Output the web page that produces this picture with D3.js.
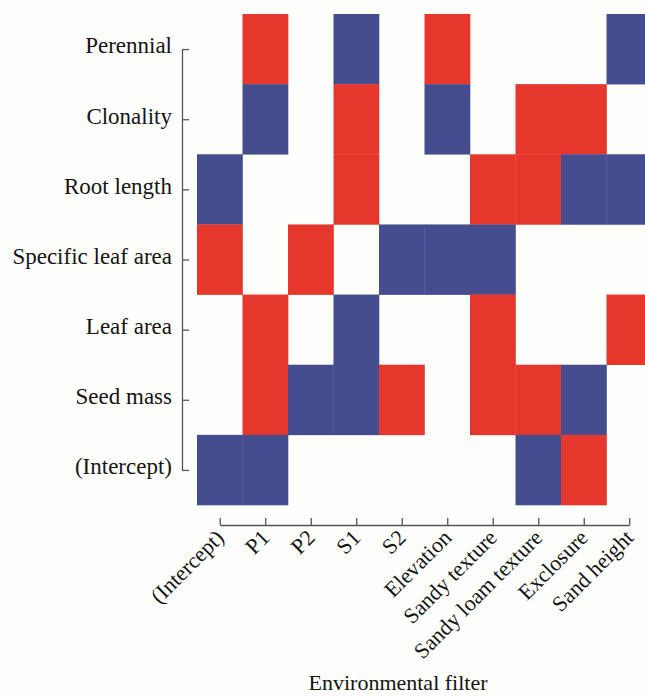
<!DOCTYPE html>
<html>
<head>
<meta charset="utf-8">
<script src="https://cdn.jsdelivr.net/npm/d3@7"></script>
<style>
  html, body { margin: 0; padding: 0; background: #fefefc; }
  svg { display: block; }
</style>
</head>
<body>
<div class="chart"></div>
<script>
// traits (rows, top to bottom) and environmental filters (columns)
const traits = ['Perennial', 'Clonality', 'Root length', 'Specific leaf area', 'Leaf area', 'Seed mass', '(Intercept)']
const filters = ['(Intercept)', 'P1', 'P2', 'S1', 'S2', 'Elevation', 'Sandy texture', 'Sandy loam texture', 'Exclosure', 'Sand height']

// sign of each trait x filter effect: 1 = positive (red), -1 = negative (blue), 0 = none
const perennial = [0, 1, 0, -1, 0, 1, 0, 0, 0, -1]
const clonality = [0, -1, 0, 1, 0, -1, 0, 1, 1, 0]
const rootLength = [-1, 0, 0, 1, 0, 0, 1, 1, -1, -1]
const specificLeafArea = [1, 0, 1, 0, -1, -1, -1, 0, 0, 0]
const leafArea = [0, 1, 0, -1, 0, 0, 1, 0, 0, 1]
const seedMass = [0, 1, -1, -1, 1, 0, 1, 1, -1, 0]
const intercept = [-1, -1, 0, 0, 0, 0, 0, -1, 1, 0]

const signs = [perennial, clonality, rootLength, specificLeafArea, leafArea, seedMass, intercept]

const width = 645
const height = 696
const cellLeft = 197
const cellW = 45.5
const gridTop = 14
const gridBottom = 505

const svg = d3.select('.chart')
  .append('svg')
  .attr('width', width)
  .attr('height', height)

const x = d3.scaleBand().domain(filters).range([cellLeft, cellLeft + cellW * filters.length])
const y = d3.scaleBand().domain(traits).range([gridTop, gridBottom])

const color = d3.scaleOrdinal().domain([1, -1]).range(['#e5372c', '#454d8e'])

const cells = []
traits.forEach((t, i) => {
  filters.forEach((f, j) => {
    if (signs[i][j] !== 0) cells.push({ trait: t, filter: f, value: signs[i][j] })
  })
})

svg.append('g')
  .selectAll('rect')
  .data(cells)
  .enter()
  .append('rect')
  .attr('x', (d) => x(d.filter))
  .attr('y', (d) => y(d.trait))
  .attr('width', x.bandwidth() + 0.3)
  .attr('height', y.bandwidth() + 0.3)
  .attr('fill', (d) => color(d.value))

// axes sit on the cell centres
const xPoint = d3.scalePoint().domain(filters)
  .range([x(filters[0]) + x.bandwidth() / 2, x(filters[filters.length - 1]) + x.bandwidth() / 2])
const yPoint = d3.scalePoint().domain(traits)
  .range([y(traits[0]) + y.bandwidth() / 2, y(traits[traits.length - 1]) + y.bandwidth() / 2])

const font = 'Liberation Serif, Times New Roman, serif'
const ink = '#151515'
const axisInk = '#555'

const yAxis = svg.append('g')
  .attr('transform', 'translate(182,0)')
  .call(d3.axisLeft(yPoint).tickSizeInner(-7).tickSizeOuter(0).tickPadding(10))

yAxis.selectAll('path, line').attr('stroke', axisInk).attr('stroke-width', 1.3)
yAxis.selectAll('text')
  .attr('dy', '0.17em')
  .attr('fill', ink)
  .style('font-family', font)
  .style('font-size', '23px')

const axisY = 525
const xAxis = svg.append('g')
  .attr('transform', `translate(0,${axisY})`)
  .call(d3.axisBottom(xPoint).tickSizeInner(-7).tickSizeOuter(0))

xAxis.selectAll('path, line').attr('stroke', axisInk).attr('stroke-width', 1.3)
xAxis.selectAll('text')
  .attr('text-anchor', 'end')
  .attr('x', 0)
  .attr('y', 0)
  .attr('dy', 0)
  .attr('transform', 'translate(5,14) rotate(-45)')
  .attr('fill', ink)
  .style('font-family', font)
  .style('font-size', '22px')

svg.append('text')
  .attr('x', 398)
  .attr('y', 690)
  .attr('text-anchor', 'middle')
  .attr('fill', ink)
  .style('font-family', font)
  .style('font-size', '22px')
  .text('Environmental filter')
</script>
</body>
</html>
